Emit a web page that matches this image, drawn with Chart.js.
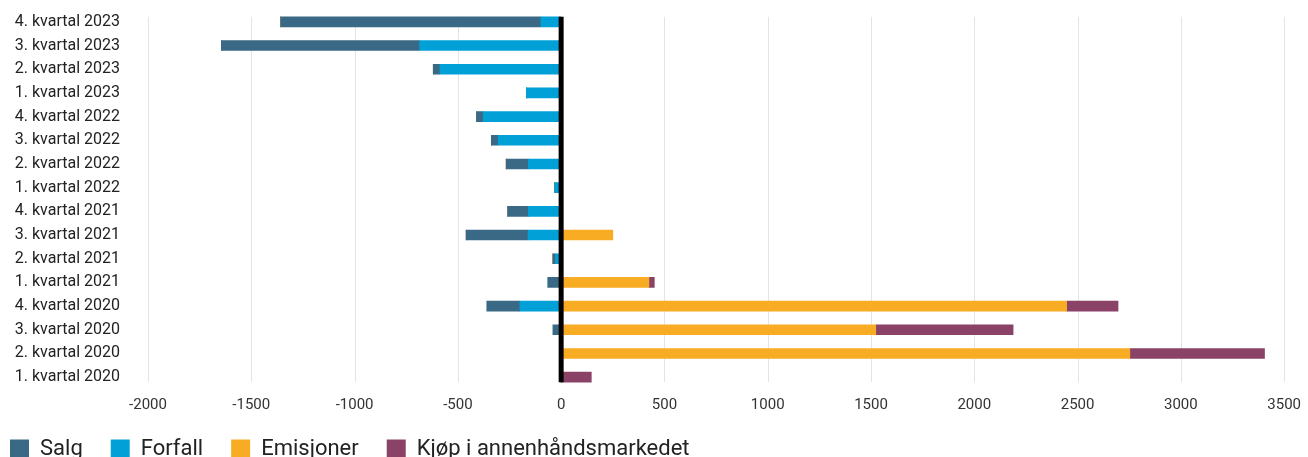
<!DOCTYPE html>
<html>
<head>
<meta charset="utf-8">
<script src="https://cdn.jsdelivr.net/npm/chart.js@4.4.1/dist/chart.umd.min.js"></script>
<style>
  html, body { margin: 0; padding: 0; background: #fff; overflow: hidden; }
  #wrap { position: relative; width: 1308px; height: 470px; }
</style>
</head>
<body>
<div id="wrap"><canvas id="kvartalChart"></canvas></div>
<script>
// Kvartaler, øverst først
const quarters = [
    '4. kvartal 2023', '3. kvartal 2023', '2. kvartal 2023', '1. kvartal 2023',
    '4. kvartal 2022', '3. kvartal 2022', '2. kvartal 2022', '1. kvartal 2022',
    '4. kvartal 2021', '3. kvartal 2021', '2. kvartal 2021', '1. kvartal 2021',
    '4. kvartal 2020', '3. kvartal 2020', '2. kvartal 2020', '1. kvartal 2020'
];
const salg      = [-1260, -960, -32, 0, -33, -33, -107, 0, -100, -300, -13, -65, -160, -40, 0, 0];
const forfall   = [-98, -685, -587, -168, -377, -305, -159, -31, -159, -160, -27, 0, -200, 0, 0, 0];
const emisjoner = [0, 0, 0, 0, 0, 0, 0, 0, 0, 250, 0, 425, 2447, 1523, 2753, 0];
const kjop      = [0, 0, 0, 0, 0, 0, 0, 0, 0, 0, 0, 26, 249, 665, 652, 146];
const xTicks    = [-2000, -1500, -1000, -500, 0, 500, 1000, 1500, 2000, 2500, 3000, 3500];

const BAR = 10;

// gridlinjer og nullinje kun fra første til siste stolpe
const gridPlugin = {
    id: 'gridPlugin',
    beforeDatasetsDraw(chart) {
        const x = chart.scales.x, y = chart.scales.y;
        const top = y.getPixelForValue(0) - BAR / 2;
        const bottom = y.getPixelForValue(quarters.length - 1) + BAR / 2;
        const c = chart.ctx;
        c.save();
        c.strokeStyle = '#e4e4e4';
        c.lineWidth = 1;
        xTicks.forEach(v => {
            if (v === 0) return;
            const px = Math.round(x.getPixelForValue(v)) + 0.5;
            c.beginPath();
            c.moveTo(px, top);
            c.lineTo(px, bottom);
            c.stroke();
        });
        c.restore();
    },
    afterDatasetsDraw(chart) {
        const x = chart.scales.x, y = chart.scales.y;
        const top = y.getPixelForValue(0) - BAR / 2;
        const bottom = y.getPixelForValue(quarters.length - 1) + BAR / 2;
        const c = chart.ctx;
        c.save();
        c.strokeStyle = '#000';
        c.lineWidth = 5;
        const px = x.getPixelForValue(0);
        c.beginPath();
        c.moveTo(px, top);
        c.lineTo(px, bottom);
        c.stroke();
        c.restore();
    }
};

Chart.defaults.font.family = 'Roboto';
Chart.defaults.color = '#222';

new Chart(document.getElementById('kvartalChart'), {
    type: 'bar',
    data: {
        labels: quarters,
        datasets: [
            { label: 'Salg', data: salg, backgroundColor: '#3a6986', order: 1 },
            { label: 'Forfall', data: forfall, backgroundColor: '#01a0d6', order: 0 }, // nærmest null
            { label: 'Emisjoner', data: emisjoner, backgroundColor: '#f8ac24', order: 2 },
            { label: 'Kjøp i annenhåndsmarkedet', data: kjop, backgroundColor: '#8a4366', order: 3 }
        ]
    },
    options: {
        indexAxis: 'y',
        responsive: true,
        maintainAspectRatio: false,
        animation: false,
        barThickness: BAR,
        layout: { padding: { top: 10, left: -18, right: 3, bottom: 0 } },
        scales: {
            x: {
                stacked: true,
                min: -2000,
                max: 3500,
                afterBuildTicks: s => { s.ticks = xTicks.map(v => ({ value: v })); },
                afterFit: s => { s.height = 21; },
                grid: { display: false, drawTicks: false },
                border: { display: false },
                ticks: { padding: 7, color: '#333', font: { size: 15 }, callback: v => String(v) }
            },
            y: {
                stacked: true,
                grid: { display: false, drawTicks: false },
                border: { display: false },
                afterFit: s => { s.width = 166; s.paddingTop = 0; s.paddingBottom = 0; },
                ticks: { padding: 28, font: { size: 16 } }
            }
        },
        plugins: {
            legend: {
                position: 'bottom',
                align: 'start',
                labels: {
                    boxWidth: 19,
                    boxHeight: 19,
                    padding: 28,
                    font: { size: 22 },
                    sort: (a, b) => a.datasetIndex - b.datasetIndex
                }
            },
            tooltip: { enabled: false }
        }
    },
    plugins: [gridPlugin]
});
</script>
</body>
</html>
